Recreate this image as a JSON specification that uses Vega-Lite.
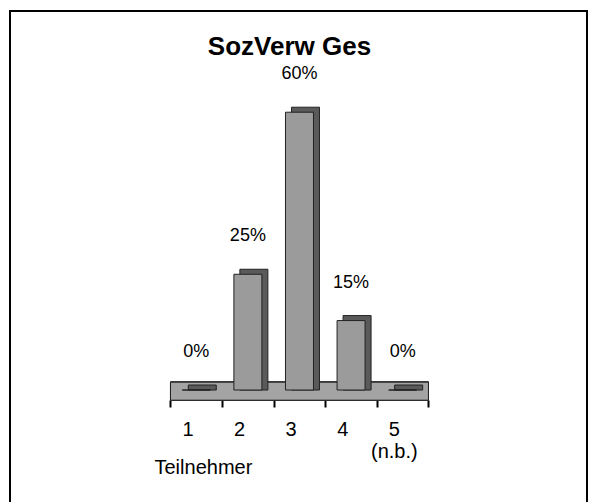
{
  "$schema": "https://vega.github.io/schema/vega-lite/v6.json",
  "width": 577,
  "height": 495,
  "autosize": {"type": "none"},
  "padding": {"left": 10, "top": 11, "right": 2, "bottom": 0},
  "background": "white",
  "config": {
    "view": {"stroke": "black", "strokeWidth": 2, "fill": "white"},
    "font": "Liberation Sans"
  },
  "title": {
    "text": "SozVerw Ges",
    "font": "Liberation Sans",
    "fontSize": 26,
    "fontWeight": "bold",
    "color": "black",
    "anchor": "middle",
    "baseline": "alphabetic",
    "dx": -9,
    "offset": -70
  },
  "data": {
    "values": [
      {"cat": 1, "share": 0},
      {"cat": 2, "share": 0.25},
      {"cat": 3, "share": 0.6},
      {"cat": 4, "share": 0.15},
      {"cat": 5, "share": 0}
    ]
  },
  "encoding": {
    "x": {
      "field": "cat",
      "type": "quantitative",
      "scale": {"domain": [-2.514, 8.476], "nice": false, "zero": false},
      "axis": {
        "values": [0.5, 1.5, 2.5, 3.5, 4.5, 5.5],
        "labelExpr": "datum.value == 4.5 ? ['5', '(n.b.)'] : (datum.value < 4.5 ? format(datum.value + 0.5, 'd') : '')",
        "labelOffset": 17,
        "domain": false,
        "grid": false,
        "ticks": true,
        "tickColor": "black",
        "tickWidth": 2,
        "tickSize": 7,
        "offset": -106,
        "labelFont": "Liberation Sans",
        "labelFontSize": 20,
        "labelColor": "black",
        "labelPadding": 12,
        "labelFlush": false,
        "labelOverlap": false,
        "title": "Teilnehmer",
        "titleFont": "Liberation Sans",
        "titleFontSize": 20,
        "titleFontWeight": "normal",
        "titleColor": "black",
        "titleAnchor": "start",
        "titleAlign": "left",
        "titleBaseline": "middle",
        "titleX": 144,
        "titleY": 67
      }
    },
    "y": {
      "field": "share",
      "type": "quantitative",
      "scale": {"domain": [-0.2505, 0.8186], "nice": false, "zero": false},
      "axis": null
    }
  },
  "layer": [
    {
      "mark": {"type": "rect", "fill": "#a4a4a4", "stroke": "#222", "strokeWidth": 1},
      "encoding": {
        "x": {"datum": 0.5, "type": "quantitative", "scale": {"domain": [-2.514, 8.476], "nice": false, "zero": false}},
        "x2": {"datum": 5.5},
        "y": {"datum": 0.017, "type": "quantitative", "scale": {"domain": [-0.2505, 0.8186], "nice": false, "zero": false}, "axis": null},
        "y2": {"datum": -0.022}
      }
    },
    {
      "mark": {"type": "bar", "width": 28, "fill": "#5a5a5a", "stroke": "#222", "strokeWidth": 1, "xOffset": 6, "yOffset": -5, "y2Offset": 0},
      "encoding": {
        "y2": {"datum": 0}
      }
    },
    {
      "mark": {"type": "bar", "width": 28, "fill": "#9b9b9b", "stroke": "#222", "strokeWidth": 1}
    },
    {
      "mark": {"type": "text", "dy": -38, "fontSize": 18, "font": "Liberation Sans", "color": "black", "baseline": "middle"},
      "encoding": {
        "text": {"field": "share", "type": "quantitative", "format": ".0%"}
      }
    }
  ]
}
